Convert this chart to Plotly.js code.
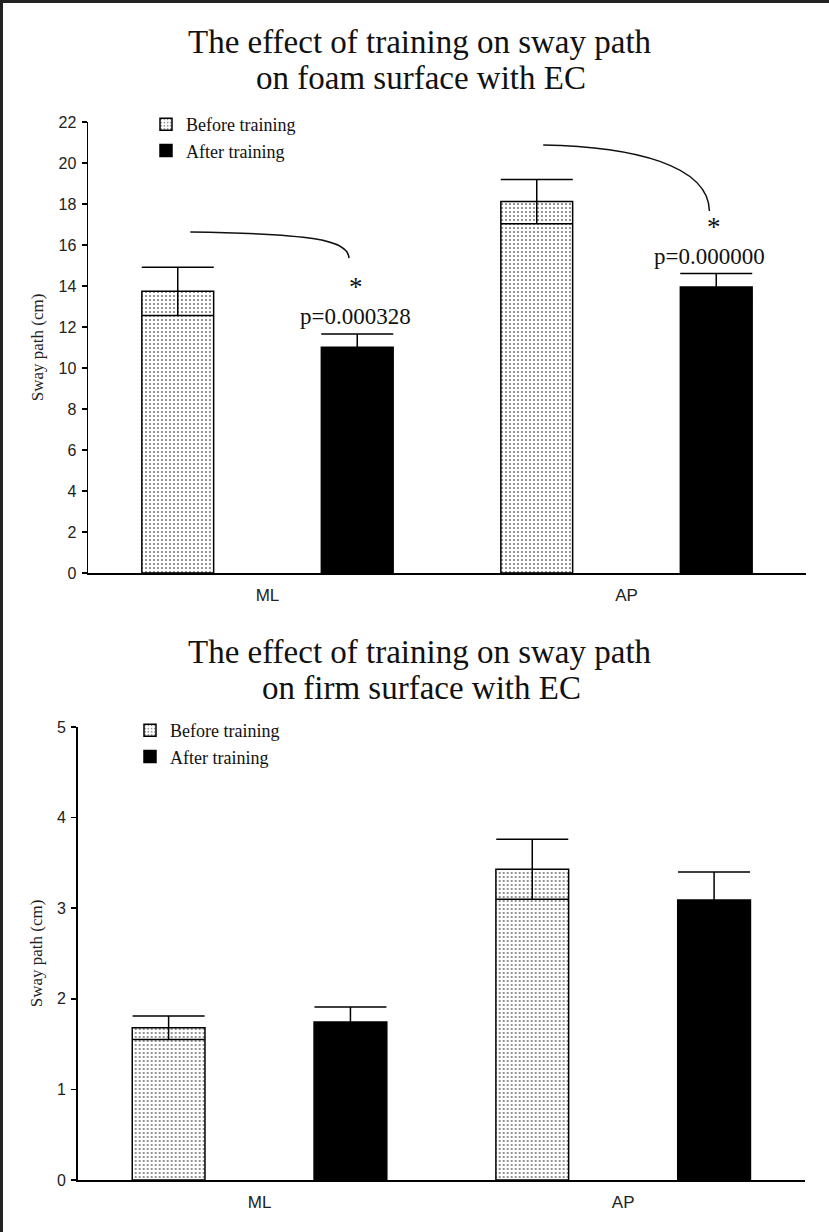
<!DOCTYPE html>
<html>
<head>
<meta charset="utf-8">
<script src="https://cdn.plot.ly/plotly-3.0.1.min.js"></script>
<style>
  html, body { margin: 0; padding: 0; background: #fff; }
  #wrap { position: relative; width: 829px; height: 1232px; }
  #chart { width: 829px; height: 1232px; }
  #frame { position: absolute; left: 0; top: 0; width: 829px; height: 1232px;
           box-sizing: border-box; border-left: 3px solid #222; border-top: 3px solid #222;
           pointer-events: none; }
</style>
</head>
<body>
<div id="wrap"><div id="chart"></div><div id="frame"></div></div>
<script>
// ---- data ----
const categories = ['ML', 'AP'];
const seriesNames = ['Before training', 'After training'];

const foamBefore    = [13.74, 18.12];
const foamBeforeErr = [1.18, 1.08];
const foamAfter     = [11.01, 13.95];
const foamAfterErr  = [0.65, 0.66];

const firmBefore    = [1.68, 3.43];
const firmBeforeErr = [0.13, 0.33];
const firmAfter     = [1.745, 3.09];
const firmAfterErr  = [0.165, 0.31];

const pValues = ['p=0.000328', 'p=0.000000'];

const titleFoam = ['The effect of training on sway path', 'on foam surface with EC'];
const titleFirm = ['The effect of training on sway path', 'on firm surface with EC'];
const yTitle = 'Sway path (cm)';

// ---- styles ----
const SERIF = 'Liberation Serif, Times New Roman, serif';
const SANS = 'Liberation Sans, Arial, sans-serif';
const dotPattern = {shape: '.', fgcolor: '#000', bgcolor: '#fff', size: 4, solidity: 0.12};

function beforeTrace(y, err, xa, ya, legend) {
  return {
    type: 'bar', x: categories, y: y, name: seriesNames[0], xaxis: xa, yaxis: ya,
    legend: legend, showlegend: true,
    marker: {color: '#fff', pattern: dotPattern, line: {color: '#000', width: 1.5}},
    error_y: {type: 'data', array: err, visible: true, color: '#000', thickness: 1.5, width: 36},
    hoverinfo: 'skip'
  };
}
function afterTrace(y, err, xa, ya, legend) {
  return {
    type: 'bar', x: categories, y: y, name: seriesNames[1], xaxis: xa, yaxis: ya,
    legend: legend, showlegend: true,
    marker: {color: '#000', line: {color: '#000', width: 1.5}},
    error_y: {type: 'data', array: err, visible: true, color: '#000', thickness: 1.5, width: 36},
    hoverinfo: 'skip'
  };
}

const traces = [
  beforeTrace(foamBefore, foamBeforeErr, 'x', 'y', 'legend'),
  afterTrace(foamAfter, foamAfterErr, 'x', 'y', 'legend'),
  beforeTrace(firmBefore, firmBeforeErr, 'x2', 'y2', 'legend2'),
  afterTrace(firmAfter, firmAfterErr, 'x2', 'y2', 'legend2')
];

const W = 829, H = 1232;
const px = v => v / W;
const py = v => 1 - v / H;

function xAxis(domain, anchor) {
  return {
    domain: domain, type: 'category', range: [-0.5, 1.5], anchor: anchor,
    showline: true, linecolor: '#000', linewidth: 1.5, ticks: '',
    showgrid: false, zeroline: false, ticklabelstandoff: 6,
    tickfont: {family: SANS, size: 17, color: '#222'}
  };
}
function yAxis(domain, range, dtick, anchor) {
  return {
    domain: domain, range: range, dtick: dtick, anchor: anchor,
    showline: true, linecolor: '#000', linewidth: 1.5,
    ticks: 'outside', ticklen: 5, tickwidth: 1.5, tickcolor: '#000',
    showgrid: false, zeroline: false, ticklabelstandoff: 2,
    tickfont: {family: SANS, size: 16, color: '#222'},
    title: {text: yTitle, font: {family: SERIF, size: 17, color: '#222'}, standoff: 10}
  };
}

const titleFont = {family: SERIF, size: 33, color: '#111'};
const pFont = {family: SERIF, size: 23, color: '#111'};
const starFont = {family: SERIF, size: 27, color: '#111'};
function titleAnn(text, x, y) {
  return {xref: 'paper', yref: 'paper', x: px(x), y: py(y), text: text, showarrow: false,
          font: titleFont, xanchor: 'center', yanchor: 'middle', borderpad: 0};
}
function pAnn(i, x) {
  return {xref: 'x', yref: 'y', x: x, y: foamAfter[i] + foamAfterErr[i], yshift: 4, text: pValues[i],
          showarrow: false, font: pFont, yanchor: 'bottom', borderpad: 0};
}
function starAnn(i, x) {
  return {xref: 'x', yref: 'y', x: x, y: foamAfter[i] + foamAfterErr[i], yshift: 31, text: '*',
          showarrow: false, font: starFont, yanchor: 'bottom', borderpad: 0};
}

const annotations = [
  titleAnn(titleFoam[0], 420, 41.7),
  titleAnn(titleFoam[1], 421, 78.3),
  titleAnn(titleFirm[0], 420, 651.7),
  titleAnn(titleFirm[1], 421, 688.3),
  pAnn(0, 0.245), pAnn(1, 1.232),
  starAnn(0, 0.247), starAnn(1, 1.245)
];

const shapes = [
  {type: 'path', xref: 'x', yref: 'y', line: {color: '#111', width: 1.5},
   path: 'M -0.215,16.64 C 0.12,16.55 0.225,16.25 0.227,15.36'},
  {type: 'path', xref: 'x', yref: 'y', line: {color: '#111', width: 1.5},
   path: 'M 0.768,20.88 C 1.02,20.8 1.228,19.9 1.231,17.66'}
];

const legendBase = {
  bgcolor: 'rgba(0,0,0,0)', borderwidth: 0, orientation: 'v',
  font: {family: SERIF, size: 18, color: '#111'},
  xanchor: 'left', yanchor: 'top', itemclick: false, itemdoubleclick: false
};

const layout = {
  width: W, height: H,
  margin: {l: 0, r: 0, t: 0, b: 0},
  paper_bgcolor: '#fff', plot_bgcolor: '#fff',
  barmode: 'group', bargap: 0, bargroupgap: 0.6,
  showlegend: true,
  xaxis: xAxis([px(88), px(806)], 'y'),
  yaxis: yAxis([py(573), py(122)], [0, 22], 2, 'x'),
  xaxis2: xAxis([px(77.7), px(805)], 'y2'),
  yaxis2: yAxis([py(1180), py(727)], [0, 5], 1, 'x2'),
  legend: Object.assign({}, legendBase, {x: px(146), y: py(106)}),
  legend2: Object.assign({}, legendBase, {x: px(130), y: py(712)}),
  annotations: annotations,
  shapes: shapes
};

Plotly.newPlot('chart', traces, layout, {displayModeBar: false, staticPlot: true});
</script>
</body>
</html>
